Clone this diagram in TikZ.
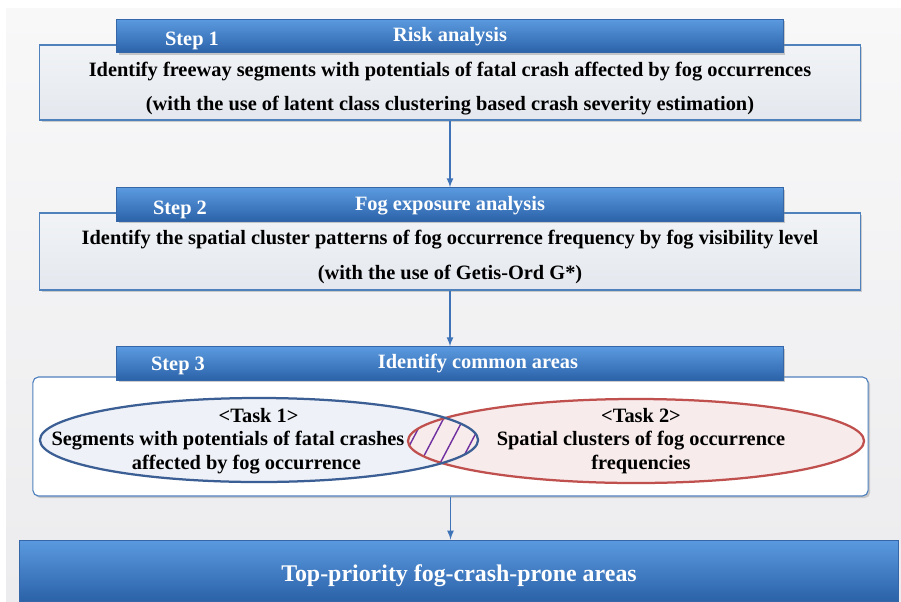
\documentclass[tikz,border=0pt]{standalone}
\usepackage{fontspec}
\setmainfont{Liberation Serif}
\usetikzlibrary{shadows}

\definecolor{bgtop}{HTML}{F8F8F9}
\definecolor{bgbot}{HTML}{ECECEE}
\definecolor{boxline}{HTML}{4F81BD}
\definecolor{boxtop}{HTML}{F1F3F6}
\definecolor{boxbot}{HTML}{E4E8EE}
\definecolor{headline}{HTML}{3567A8}
\definecolor{headtop}{HTML}{5B9AE0}
\definecolor{headbot}{HTML}{2B62A8}
\definecolor{arrowblue}{HTML}{3F73B8}
\definecolor{blueline}{HTML}{3B5F94}
\definecolor{bluefill}{HTML}{EEF1F7}
\definecolor{redline}{HTML}{C0504D}
\definecolor{redfill}{HTML}{F7EBEB}
\definecolor{hatch}{HTML}{7030A0}

\begin{document}
\begin{tikzpicture}[x=0.025cm,y=-0.025cm,thick,
    box/.style={draw=boxline, line width=0.8pt, top color=boxtop, bottom color=boxbot,
        minimum width=20.5cm, inner sep=0pt,
        drop shadow={opacity=0.35, shadow xshift=1.5pt, shadow yshift=-1.5pt}},
    head/.style={draw=headline, line width=0.6pt, top color=headtop, bottom color=headbot,
        minimum width=16.65cm, minimum height=0.84cm, inner sep=0pt,
        drop shadow={opacity=0.4, shadow xshift=1.5pt, shadow yshift=-1.5pt}},
    headtxt/.style={text=white, font=\fontsize{14.5}{16}\selectfont\bfseries},
    txt/.style={font=\fontsize{14.5}{16.5}\selectfont\bfseries, align=center},
    link/.style={draw=arrowblue, line width=1.2pt, -latex}]

    \useasboundingbox (0,0) rectangle (901,601);
    \fill[top color=bgtop, bottom color=bgbot] (6,8) rectangle (901,601);

    \node[box, minimum height=1.875cm] (box1) at (450,82.5) {};
    \node[head] (head1) at (450,36) {};
    \node[headtxt] (step1) at (192,41) {Step 1};
    \node[headtxt] (risk) at (450,37) {Risk analysis};
    \node[txt] (ident1) at (450,72) {Identify freeway segments with potentials of fatal crash affected by fog occurrences};
    \node[txt] (use1) at (450,106) {(with the use of latent class clustering based crash severity estimation)};

    \node[box, minimum height=1.925cm] (box2) at (450,251.5) {};
    \node[head] (head2) at (450,204.5) {};
    \node[headtxt] (step2) at (180,210) {Step 2};
    \node[headtxt] (fog) at (450,206) {Fog exposure analysis};
    \node[txt] (ident2) at (450,240) {Identify the spatial cluster patterns of fog occurrence frequency by fog visibility level};
    \node[txt] (use2) at (450,274) {(with the use of Getis-Ord G*)};

    \node[box, fill=white, top color=white, bottom color=white, rounded corners=4pt,
        minimum width=20.875cm, minimum height=2.975cm] (box3) at (450.5,436.5) {};
    \node[head] (head3) at (450,363.5) {};
    \node[headtxt] (step3) at (178,366) {Step 3};
    \node[headtxt] (common) at (478,364) {Identify common areas};

    \fill[bluefill] (259,440) ellipse [x radius=5.475cm, y radius=1.05cm];
    \fill[redfill] (636,441) ellipse [x radius=5.7cm, y radius=1.05cm];
    \begin{scope}
        \clip (259,440) ellipse [x radius=5.475cm, y radius=1.05cm];
        \clip (636,441) ellipse [x radius=5.7cm, y radius=1.05cm];
        \foreach \i in {366,386,...,486}{
            \draw[hatch, line width=1pt] (\i,490) -- ++(50,-95);
        }
    \end{scope}
    \draw[redline, line width=1.6pt] (636,441) ellipse [x radius=5.7cm, y radius=1.05cm];
    \draw[blueline, line width=1.6pt] (259,440) ellipse [x radius=5.475cm, y radius=1.05cm];

    \node[txt] (task1) at (228,441) {\hspace*{3em}<Task 1>\\Segments with potentials of fatal crashes\\\hspace*{1.8em}affected by fog occurrence};
    \node[txt] (task2) at (641,441) {<Task 2>\\Spatial clusters of fog occurrence\\frequencies};

    \node[draw=headline, line width=0.6pt, top color=headtop, bottom color=headbot,
        minimum width=21.95cm, minimum height=1.525cm, inner sep=0pt] (prone) at (459,570.5) {};
    \node[text=white, font=\fontsize{17}{19}\selectfont\bfseries] (pronetxt) at (459,576) {Top-priority fog-crash-prone areas};

    \draw[link] (box1.south) -- (head2.north);
    \draw[link] (box2.south) -- (head3.north);
    \draw[link] (box3.south) -- (box3.south |- prone.north);

\end{tikzpicture}
\end{document}
